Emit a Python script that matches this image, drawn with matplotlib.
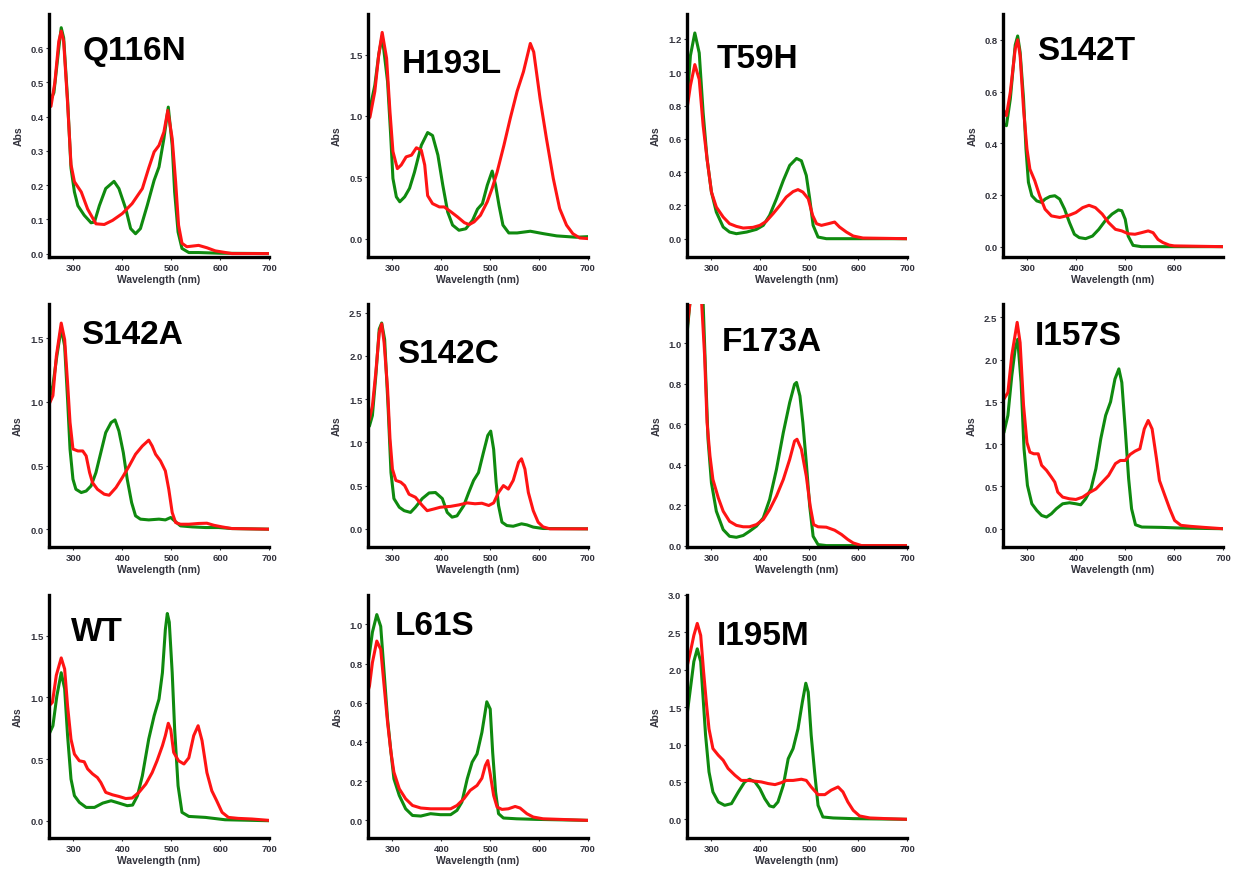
"""Absorbance spectra of eleven variants, green vs red form, on a 3x4 grid."""

import matplotlib

matplotlib.use("Agg")
import matplotlib.pyplot as plt

plt.rcParams["font.family"] = ["Liberation Sans", "DejaVu Sans"]
plt.rcParams["font.weight"] = "bold"
plt.rcParams["axes.labelweight"] = "bold"

GREEN = "#0f8a0f"
RED = "#ff1414"
TEXT = "#33333d"

# ---- data (wavelength in nm, absorbance) ----
q116n_green_wl = [250, 260, 270, 275, 280, 288, 295, 302, 309, 322, 336, 343, 353, 366, 383, 393,
                  407, 417, 427, 437, 451, 465, 475, 485, 494, 502, 507, 514, 522, 536, 556, 600, 700]
q116n_green = [0.44, 0.47, 0.60, 0.66, 0.63, 0.45, 0.25, 0.18, 0.14, 0.112, 0.09, 0.092, 0.14, 0.19,
               0.211, 0.19, 0.131, 0.073, 0.058, 0.073, 0.141, 0.214, 0.253, 0.336, 0.428, 0.316,
               0.18, 0.063, 0.015, 0.003, 0.003, 0.001, 0.0]
q116n_red_wl = [250, 254, 262, 270, 275, 280, 288, 295, 302, 316, 329, 346, 363, 380, 400, 420, 441,
                454, 465, 475, 485, 493, 502, 509, 515, 522, 532, 556, 573, 590, 624, 700]
q116n_red = [0.45, 0.43, 0.50, 0.62, 0.65, 0.62, 0.44, 0.26, 0.21, 0.18, 0.13, 0.087, 0.085, 0.097,
             0.117, 0.146, 0.19, 0.25, 0.297, 0.316, 0.355, 0.418, 0.336, 0.21, 0.083, 0.03, 0.02,
             0.024, 0.017, 0.008, 0.0, 0.0]

h193l_green_wl = [250, 254, 264, 272, 279, 290, 296, 301, 308, 315, 325, 335, 345, 359, 372, 382,
                  393, 403, 413, 423, 436, 450, 464, 474, 484, 494, 504, 511, 518, 526, 538, 555,
                  582, 609, 636, 676, 700]
h193l_green = [1.0, 1.06, 1.25, 1.50, 1.65, 1.28, 0.87, 0.49, 0.34, 0.30, 0.34, 0.41, 0.54, 0.76,
               0.864, 0.84, 0.68, 0.435, 0.217, 0.11, 0.068, 0.08, 0.15, 0.24, 0.285, 0.435, 0.55,
               0.435, 0.27, 0.11, 0.046, 0.046, 0.06, 0.04, 0.022, 0.011, 0.016]
h193l_red_wl = [250, 254, 264, 272, 279, 288, 295, 301, 310, 318, 328, 339, 349, 359, 366, 372, 382,
                396, 406, 420, 433, 447, 457, 467, 480, 494, 504, 514, 528, 541, 555, 568, 582, 589,
                602, 615, 629, 642, 656, 669, 683, 700]
h193l_red = [0.97, 0.99, 1.2, 1.50, 1.68, 1.47, 1.03, 0.71, 0.57, 0.60, 0.666, 0.68, 0.74, 0.72, 0.6,
             0.35, 0.285, 0.258, 0.258, 0.217, 0.177, 0.13, 0.114, 0.136, 0.19, 0.3, 0.41, 0.54,
             0.76, 0.98, 1.2, 1.36, 1.59, 1.52, 1.14, 0.815, 0.49, 0.245, 0.11, 0.04, 0.005, 0.0]

t59h_green_wl = [250, 257, 266, 275, 283, 291, 300, 310, 324, 337, 351, 372, 392, 406, 419, 433,
                 447, 460, 474, 484, 494, 501, 508, 518, 535, 600, 700]
t59h_green = [0.82, 1.1, 1.236, 1.116, 0.757, 0.48, 0.28, 0.16, 0.07, 0.04, 0.03, 0.04, 0.056, 0.08,
              0.14, 0.24, 0.35, 0.44, 0.482, 0.468, 0.38, 0.24, 0.08, 0.01, 0.0, 0.0, 0.0]
t59h_red_wl = [250, 257, 266, 275, 283, 291, 300, 310, 324, 337, 351, 365, 385, 399, 412, 426, 440,
               453, 467, 477, 487, 498, 507, 515, 525, 539, 552, 562, 576, 590, 610, 700]
t59h_red = [0.78, 0.92, 1.046, 0.957, 0.68, 0.48, 0.28, 0.19, 0.13, 0.09, 0.074, 0.064, 0.068, 0.08,
            0.104, 0.15, 0.2, 0.25, 0.283, 0.295, 0.28, 0.24, 0.14, 0.09, 0.08, 0.09, 0.1, 0.07,
            0.04, 0.016, 0.004, 0.0]

s142t_green_wl = [250, 257, 265, 275, 280, 285, 292, 297, 302, 309, 319, 329, 336, 346, 356, 366,
                  376, 386, 396, 406, 419, 433, 446, 459, 473, 486, 493, 500, 506, 516, 533, 700]
s142t_green = [0.475, 0.468, 0.572, 0.78, 0.815, 0.753, 0.572, 0.378, 0.249, 0.197, 0.177, 0.171,
               0.184, 0.194, 0.197, 0.184, 0.145, 0.093, 0.048, 0.035, 0.031, 0.041, 0.067, 0.1,
               0.126, 0.142, 0.139, 0.106, 0.041, 0.005, 0.0, 0.0]
s142t_red_wl = [250, 257, 265, 275, 280, 285, 292, 299, 305, 315, 325, 336, 349, 366, 386, 399, 413,
                426, 439, 453, 466, 480, 493, 506, 520, 533, 547, 557, 567, 577, 590, 600, 700]
s142t_red = [0.533, 0.507, 0.598, 0.766, 0.80, 0.74, 0.533, 0.378, 0.30, 0.255, 0.197, 0.145, 0.119,
             0.113, 0.122, 0.132, 0.151, 0.16, 0.151, 0.126, 0.093, 0.067, 0.061, 0.05, 0.048, 0.054,
             0.061, 0.054, 0.028, 0.016, 0.006, 0.003, 0.0]

s142a_green_wl = [250, 258, 266, 275, 282, 288, 293, 299, 305, 316, 326, 336, 346, 356, 366, 377,
                  385, 393, 402, 410, 419, 427, 437, 454, 475, 488, 499, 507, 519, 543, 570, 597,
                  624, 700]
s142a_green = [1.02, 1.13, 1.36, 1.58, 1.44, 1.02, 0.63, 0.393, 0.314, 0.288, 0.30, 0.34, 0.445,
               0.602, 0.759, 0.838, 0.859, 0.772, 0.602, 0.393, 0.209, 0.105, 0.079, 0.073, 0.079,
               0.073, 0.092, 0.065, 0.026, 0.018, 0.013, 0.013, 0.005, 0.0]
s142a_red_wl = [250, 258, 265, 275, 282, 288, 293, 299, 309, 319, 326, 333, 339, 349, 363, 373, 387,
                400, 414, 427, 441, 454, 461, 468, 478, 488, 495, 502, 509, 519, 536, 556, 573, 587,
                604, 624, 700]
s142a_red = [0.98, 1.05, 1.36, 1.62, 1.49, 1.15, 0.84, 0.63, 0.615, 0.615, 0.576, 0.445, 0.366, 0.314,
             0.275, 0.267, 0.327, 0.406, 0.497, 0.589, 0.654, 0.70, 0.654, 0.589, 0.537, 0.458, 0.314,
             0.131, 0.052, 0.039, 0.039, 0.045, 0.047, 0.031, 0.018, 0.005, 0.0]

s142c_green_wl = [250, 253, 259, 266, 273, 278, 284, 291, 297, 303, 314, 324, 337, 347, 361, 375,
                  388, 402, 412, 422, 432, 446, 456, 466, 476, 486, 495, 501, 507, 512, 517, 524,
                  534, 547, 564, 575, 588, 608, 700]
s142c_green = [1.17, 1.19, 1.31, 1.77, 2.31, 2.38, 2.19, 1.42, 0.65, 0.35, 0.25, 0.21, 0.19, 0.25,
               0.35, 0.415, 0.42, 0.35, 0.19, 0.135, 0.15, 0.27, 0.42, 0.56, 0.65, 0.88, 1.08, 1.13,
               0.92, 0.54, 0.27, 0.077, 0.038, 0.03, 0.058, 0.046, 0.02, 0.004, 0.0]
s142c_red_wl = [250, 253, 259, 266, 273, 278, 283, 290, 295, 300, 307, 317, 325, 334, 347, 361, 371,
                385, 398, 419, 436, 453, 469, 483, 497, 507, 517, 527, 537, 547, 558, 564, 571, 578,
                588, 598, 608, 622, 700]
s142c_red = [1.22, 1.27, 1.42, 1.81, 2.27, 2.37, 2.15, 1.62, 1.04, 0.69, 0.56, 0.54, 0.50, 0.40,
             0.365, 0.27, 0.21, 0.23, 0.25, 0.26, 0.277, 0.30, 0.29, 0.296, 0.27, 0.30, 0.42, 0.50,
             0.46, 0.56, 0.77, 0.81, 0.69, 0.42, 0.21, 0.077, 0.023, 0.0, 0.0]

f173a_green_wl = [250, 256, 265, 275, 283, 288, 293, 300, 310, 324, 337, 351, 365, 378, 392, 406,
                  419, 433, 447, 460, 470, 474, 481, 487, 494, 501, 508, 518, 535, 700]
f173a_green = [1.046, 1.20, 1.60, 1.50, 1.20, 0.856, 0.526, 0.31, 0.17, 0.079, 0.046, 0.041, 0.05,
               0.071, 0.096, 0.137, 0.228, 0.377, 0.559, 0.707, 0.798, 0.807, 0.74, 0.608, 0.41,
               0.195, 0.046, 0.005, 0.0, 0.0]
f173a_red_wl = [250, 256, 265, 275, 280, 286, 291, 297, 303, 314, 324, 337, 351, 365, 378, 392, 406,
                419, 433, 447, 460, 470, 475, 484, 494, 502, 509, 518, 535, 552, 566, 579, 590, 607,
                700]
f173a_red = [1.07, 1.20, 1.60, 1.45, 1.20, 0.94, 0.61, 0.443, 0.327, 0.236, 0.17, 0.12, 0.10, 0.093,
             0.093, 0.104, 0.129, 0.178, 0.245, 0.327, 0.426, 0.517, 0.526, 0.476, 0.344, 0.195,
             0.104, 0.093, 0.091, 0.076, 0.055, 0.03, 0.013, 0.0, 0.0]

i157s_green_wl = [250, 252, 260, 268, 275, 280, 287, 293, 300, 309, 319, 329, 339, 349, 359, 372,
                  386, 399, 409, 419, 430, 440, 450, 460, 470, 479, 487, 493, 500, 507, 513, 521,
                  534, 574, 614, 700]
i157s_green = [1.12, 1.14, 1.34, 1.81, 2.13, 2.24, 1.73, 0.945, 0.512, 0.295, 0.217, 0.157, 0.138,
               0.177, 0.236, 0.295, 0.307, 0.295, 0.283, 0.354, 0.472, 0.709, 1.063, 1.34, 1.5,
               1.77, 1.89, 1.73, 1.18, 0.59, 0.236, 0.047, 0.02, 0.016, 0.008, 0.0]
i157s_red_wl = [250, 252, 260, 268, 279, 285, 292, 299, 305, 313, 322, 329, 339, 349, 356, 362, 372,
                386, 399, 413, 426, 440, 453, 466, 480, 490, 500, 510, 520, 530, 539, 547, 555, 564,
                570, 581, 591, 601, 614, 634, 661, 700]
i157s_red = [1.52, 1.535, 1.61, 2.05, 2.44, 2.2, 1.46, 1.02, 0.905, 0.886, 0.886, 0.75, 0.69, 0.61,
             0.55, 0.433, 0.374, 0.354, 0.346, 0.374, 0.425, 0.47, 0.55, 0.63, 0.77, 0.807, 0.807,
             0.878, 0.917, 0.945, 1.18, 1.28, 1.18, 0.827, 0.57, 0.394, 0.236, 0.098, 0.04, 0.028,
             0.016, 0.0]

wt_green_wl = [250, 258, 266, 275, 282, 288, 295, 302, 312, 326, 343, 360, 377, 393, 410, 421, 431,
               441, 454, 465, 475, 482, 488, 492, 496, 502, 507, 514, 522, 536, 570, 610, 700]
wt_green = [0.70, 0.77, 1.01, 1.2, 1.07, 0.69, 0.338, 0.203, 0.149, 0.108, 0.108, 0.143, 0.162,
            0.143, 0.122, 0.127, 0.203, 0.365, 0.662, 0.85, 0.986, 1.2, 1.55, 1.68, 1.61, 1.2, 0.743,
            0.284, 0.068, 0.035, 0.027, 0.008, 0.0]
wt_red_wl = [250, 257, 265, 275, 282, 288, 295, 302, 312, 322, 329, 339, 349, 356, 366, 380, 393,
             407, 420, 434, 448, 461, 471, 482, 488, 494, 499, 505, 515, 526, 536, 546, 555, 563,
             573, 583, 593, 604, 617, 637, 665, 700]
wt_red = [0.93, 0.96, 1.18, 1.32, 1.23, 0.93, 0.66, 0.54, 0.486, 0.478, 0.42, 0.38, 0.35, 0.31, 0.23,
          0.21, 0.197, 0.18, 0.184, 0.23, 0.297, 0.39, 0.486, 0.608, 0.69, 0.79, 0.74, 0.554, 0.486,
          0.46, 0.51, 0.69, 0.77, 0.65, 0.39, 0.243, 0.162, 0.068, 0.027, 0.019, 0.014, 0.003]

l61s_green_wl = [250, 253, 259, 268, 276, 283, 290, 297, 303, 314, 327, 341, 358, 378, 398, 419,
                 432, 442, 453, 463, 473, 483, 493, 500, 505, 511, 517, 527, 554, 595, 700]
l61s_green = [0.80, 0.85, 0.96, 1.05, 0.99, 0.754, 0.517, 0.347, 0.212, 0.127, 0.059, 0.025, 0.022,
              0.034, 0.029, 0.029, 0.051, 0.093, 0.212, 0.297, 0.339, 0.449, 0.605, 0.568, 0.347,
              0.144, 0.034, 0.012, 0.008, 0.005, 0.0]
l61s_red_wl = [250, 253, 259, 268, 276, 283, 290, 297, 303, 314, 327, 341, 358, 378, 398, 419, 432,
               446, 459, 473, 483, 490, 495, 500, 507, 514, 524, 537, 551, 561, 575, 588, 608, 700]
l61s_red = [0.66, 0.686, 0.805, 0.915, 0.873, 0.686, 0.5, 0.347, 0.246, 0.161, 0.11, 0.076, 0.063,
            0.059, 0.059, 0.059, 0.076, 0.11, 0.153, 0.178, 0.215, 0.28, 0.305, 0.237, 0.127, 0.068,
            0.056, 0.059, 0.071, 0.063, 0.034, 0.017, 0.008, 0.0]

i195m_green_wl = [250, 257, 264, 271, 278, 283, 288, 295, 303, 314, 327, 341, 355, 368, 378, 389,
                  399, 409, 419, 427, 436, 447, 457, 467, 477, 486, 493, 498, 504, 511, 518, 528,
                  549, 590, 700]
i195m_green = [1.39, 1.75, 2.11, 2.28, 2.11, 1.62, 1.125, 0.634, 0.366, 0.232, 0.187, 0.21, 0.366,
               0.5, 0.536, 0.5, 0.41, 0.277, 0.179, 0.165, 0.232, 0.455, 0.81, 0.946, 1.21, 1.57,
               1.82, 1.7, 1.125, 0.634, 0.187, 0.031, 0.018, 0.009, 0.0]
i195m_red_wl = [250, 257, 264, 271, 278, 284, 290, 295, 303, 314, 324, 334, 348, 361, 375, 389, 402,
                416, 430, 443, 453, 467, 484, 494, 504, 518, 532, 545, 559, 569, 579, 590, 603, 624,
                658, 700]
i195m_red = [2.04, 2.24, 2.46, 2.62, 2.46, 1.97, 1.53, 1.21, 0.946, 0.857, 0.79, 0.68, 0.59, 0.52,
             0.52, 0.51, 0.5, 0.478, 0.464, 0.49, 0.52, 0.52, 0.536, 0.52, 0.433, 0.33, 0.33, 0.39,
             0.433, 0.366, 0.232, 0.12, 0.045, 0.018, 0.009, 0.0]

# panel name -> (green wl, green abs, red wl, red abs)
PANELS = [
    ("Q116N", q116n_green_wl, q116n_green, q116n_red_wl, q116n_red),
    ("H193L", h193l_green_wl, h193l_green, h193l_red_wl, h193l_red),
    ("T59H", t59h_green_wl, t59h_green, t59h_red_wl, t59h_red),
    ("S142T", s142t_green_wl, s142t_green, s142t_red_wl, s142t_red),
    ("S142A", s142a_green_wl, s142a_green, s142a_red_wl, s142a_red),
    ("S142C", s142c_green_wl, s142c_green, s142c_red_wl, s142c_red),
    ("F173A", f173a_green_wl, f173a_green, f173a_red_wl, f173a_red),
    ("I157S", i157s_green_wl, i157s_green, i157s_red_wl, i157s_red),
    ("WT", wt_green_wl, wt_green, wt_red_wl, wt_red),
    ("L61S", l61s_green_wl, l61s_green, l61s_red_wl, l61s_red),
    ("I195M", i195m_green_wl, i195m_green, i195m_red_wl, i195m_red),
]

# y ticks per panel, as printed
Y_TICKS = {
    "Q116N": [0.0, 0.1, 0.2, 0.3, 0.4, 0.5, 0.6],
    "H193L": [0.0, 0.5, 1.0, 1.5],
    "T59H": [0.0, 0.2, 0.4, 0.6, 0.8, 1.0, 1.2],
    "S142T": [0.0, 0.2, 0.4, 0.6, 0.8],
    "S142A": [0.0, 0.5, 1.0, 1.5],
    "S142C": [0.0, 0.5, 1.0, 1.5, 2.0, 2.5],
    "F173A": [0.0, 0.2, 0.4, 0.6, 0.8, 1.0],
    "I157S": [0.0, 0.5, 1.0, 1.5, 2.0, 2.5],
    "WT": [0.0, 0.5, 1.0, 1.5],
    "L61S": [0.0, 0.2, 0.4, 0.6, 0.8, 1.0],
    "I195M": [0.0, 0.5, 1.0, 1.5, 2.0, 2.5, 3.0],
}
X_TICKS = [300, 400, 500, 600, 700]
X_TICKS_S142T = [300, 400, 500, 600]

# ---- layout (pixels of the 1235x870 reference) ----
Y_LIMITS = {
    "Q116N": (-0.01, 0.70), "H193L": (-0.15, 1.83), "T59H": (-0.11, 1.35),
    "S142T": (-0.04, 0.90), "S142A": (-0.14, 1.77), "S142C": (-0.21, 2.60),
    "F173A": (-0.007, 1.195), "I157S": (-0.216, 2.657), "WT": (-0.14, 1.83),
    "L61S": (-0.09, 1.15), "I195M": (-0.25, 3.0),
}
# (x offset, baseline) of the big name, in axes fractions
LABEL_POS = {
    "Q116N": (0.152, 0.815), "H193L": (0.153, 0.763), "T59H": (0.135, 0.78),
    "S142T": (0.153, 0.815), "S142A": (0.148, 0.84), "S142C": (0.13, 0.763),
    "F173A": (0.158, 0.81), "I157S": (0.145, 0.835), "WT": (0.098, 0.815),
    "L61S": (0.123, 0.84), "I195M": (0.135, 0.80),
}
COL_LEFT = [49, 368, 687, 1003]
COL_WIDTH = 220
ROW_TOP = [15, 305, 596]
ROW_HEIGHT = 243
W, H = 1235, 870

fig = plt.figure(figsize=(W / 100, H / 100), dpi=100)

for i, (name, g_wl, g_abs, r_wl, r_abs) in enumerate(PANELS):
    row, col = divmod(i, 4)
    left = COL_LEFT[col]
    top = ROW_TOP[row]
    ax = fig.add_axes([left / W, 1 - (top + ROW_HEIGHT) / H, COL_WIDTH / W, ROW_HEIGHT / H])

    ax.plot(g_wl, g_abs, color=GREEN, lw=2.2, solid_joinstyle="round")
    ax.plot(r_wl, r_abs, color=RED, lw=2.2, solid_joinstyle="round")

    ax.set_xlim(250, 700)
    ax.set_ylim(*Y_LIMITS[name])
    ax.set_xticks(X_TICKS_S142T if name == "S142T" else X_TICKS)
    ax.set_yticks(Y_TICKS[name])
    ax.yaxis.set_major_formatter(matplotlib.ticker.FormatStrFormatter("%.1f"))

    for side in ("top", "right"):
        ax.spines[side].set_visible(False)
    for side in ("left", "bottom"):
        ax.spines[side].set_linewidth(2.4)
        ax.spines[side].set_color("black")

    ax.tick_params(direction="out", length=2.5, width=0.8, pad=1.5, labelsize=6.8,
                   colors=TEXT)
    for lab in ax.get_xticklabels() + ax.get_yticklabels():
        lab.set_fontweight("bold")
    ax.set_xlabel("Wavelength (nm)", fontsize=7.5, fontweight="bold", color=TEXT, labelpad=2)
    ax.set_ylabel("Abs", fontsize=7.5, fontweight="bold", color=TEXT, labelpad=5)

    lx, ly = LABEL_POS[name]
    ax.text(lx, ly, name, transform=ax.transAxes, fontsize=24, fontweight="bold",
            color="black", va="baseline", ha="left")

fig.savefig("out.png", dpi=100)
